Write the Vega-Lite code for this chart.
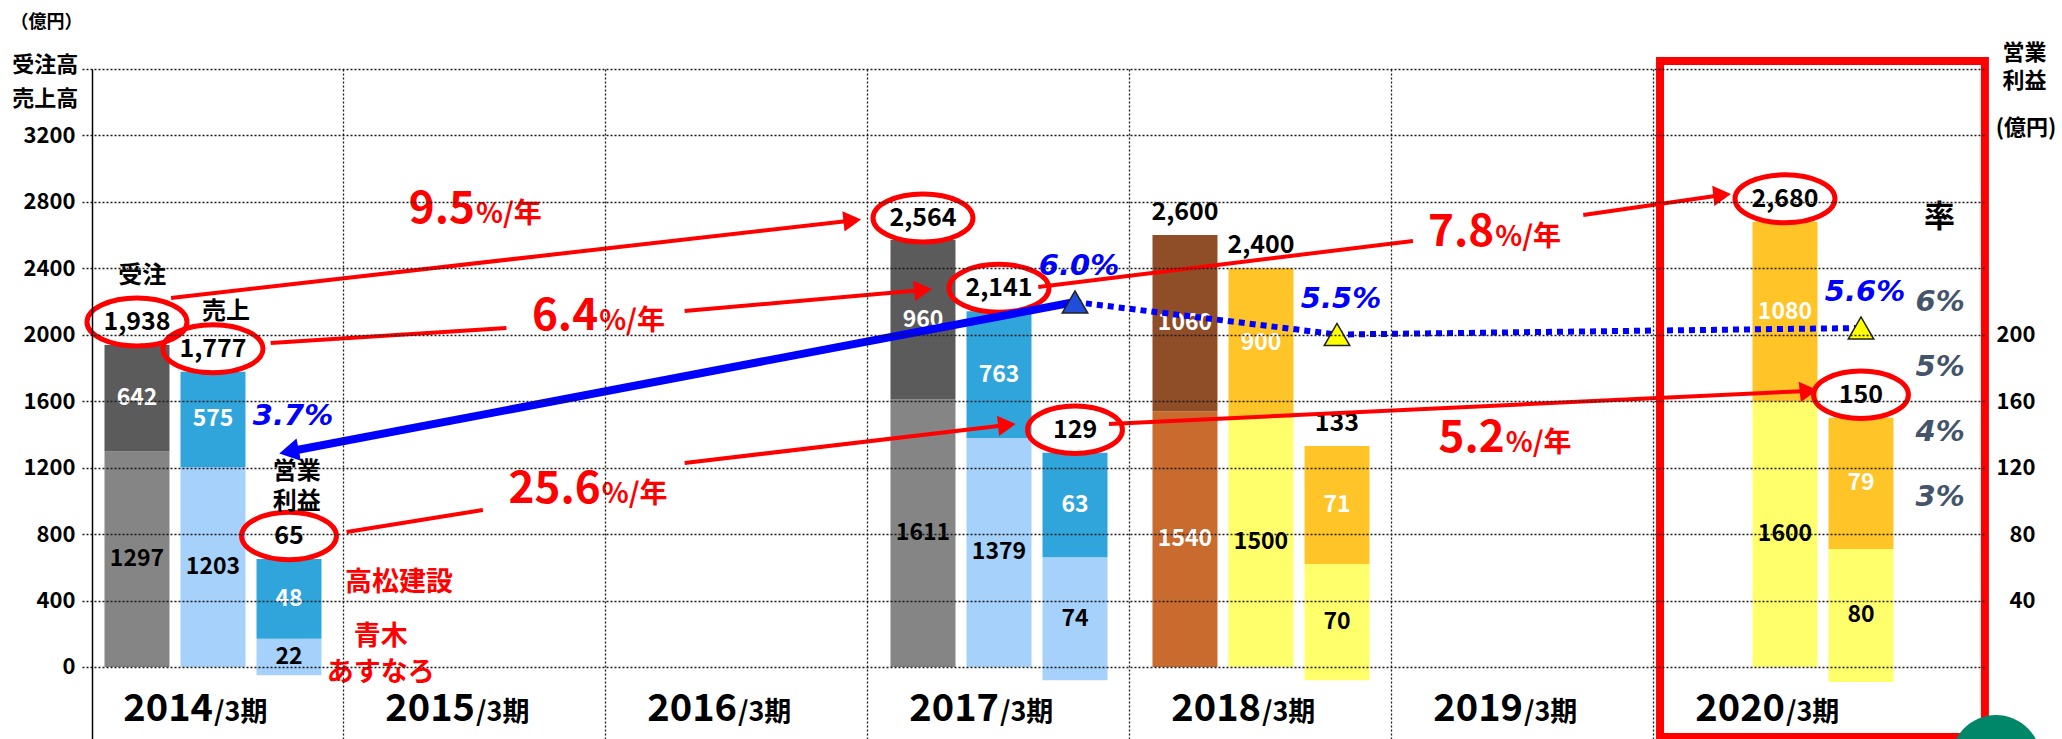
{
  "$schema": "https://vega.github.io/schema/vega-lite/v6.json",
  "width": 1902,
  "height": 670,
  "autosize": {"type": "none"},
  "padding": {"left": 82, "top": 69, "right": 78, "bottom": 0},
  "background": "#ffffff",
  "config": {
    "view": {"stroke": null},
    "font": "Noto Sans CJK JP",
    "text": {"font": "Noto Sans CJK JP", "fontWeight": "bold"}
  },
  "datasets": {
    "bars": [
      {"year": "2014", "slot": "受注", "series": "受注実績・青木あすなろ", "value": 1297, "lo": 0, "hi": 1297},
      {"year": "2014", "slot": "受注", "series": "受注実績・高松建設", "value": 642, "lo": 1297, "hi": 1939},
      {"year": "2014", "slot": "売上", "series": "売上実績・青木あすなろ", "value": 1203, "lo": 0, "hi": 1203},
      {"year": "2014", "slot": "売上", "series": "売上実績・高松建設", "value": 575, "lo": 1203, "hi": 1778},
      {"year": "2014", "slot": "営業利益", "series": "利益実績・青木あすなろ", "value": 22, "lo": -5, "hi": 17},
      {"year": "2014", "slot": "営業利益", "series": "利益実績・高松建設", "value": 48, "lo": 17, "hi": 65},
      {"year": "2017", "slot": "受注", "series": "受注実績・青木あすなろ", "value": 1611, "lo": 0, "hi": 1611},
      {"year": "2017", "slot": "受注", "series": "受注実績・高松建設", "value": 960, "lo": 1611, "hi": 2571},
      {"year": "2017", "slot": "売上", "series": "売上実績・青木あすなろ", "value": 1379, "lo": 0, "hi": 1379},
      {"year": "2017", "slot": "売上", "series": "売上実績・高松建設", "value": 763, "lo": 1379, "hi": 2142},
      {"year": "2017", "slot": "営業利益", "series": "利益実績・青木あすなろ", "value": 74, "lo": -8, "hi": 66},
      {"year": "2017", "slot": "営業利益", "series": "利益実績・高松建設", "value": 63, "lo": 66, "hi": 129},
      {"year": "2018", "slot": "受注", "series": "受注計画・青木あすなろ", "value": 1540, "lo": 0, "hi": 1540},
      {"year": "2018", "slot": "受注", "series": "受注計画・高松建設", "value": 1060, "lo": 1540, "hi": 2600},
      {"year": "2018", "slot": "売上", "series": "売上計画・青木あすなろ", "value": 1500, "lo": 0, "hi": 1500},
      {"year": "2018", "slot": "売上", "series": "売上計画・高松建設", "value": 900, "lo": 1500, "hi": 2400},
      {"year": "2018", "slot": "営業利益", "series": "利益計画・青木あすなろ", "value": 70, "lo": -8, "hi": 62},
      {"year": "2018", "slot": "営業利益", "series": "利益計画・高松建設", "value": 71, "lo": 62, "hi": 133},
      {"year": "2020", "slot": "売上", "series": "売上計画・青木あすなろ", "value": 1600, "lo": 0, "hi": 1600},
      {"year": "2020", "slot": "売上", "series": "売上計画・高松建設", "value": 1080, "lo": 1600, "hi": 2680},
      {"year": "2020", "slot": "営業利益", "series": "利益計画・青木あすなろ", "value": 80, "lo": -9, "hi": 71},
      {"year": "2020", "slot": "営業利益", "series": "利益計画・高松建設", "value": 79, "lo": 71, "hi": 150}
    ],
    "totals": [
      {"year": "2014", "slot": "受注", "total": 1938, "circled": true},
      {"year": "2014", "slot": "売上", "total": 1777, "circled": true},
      {"year": "2014", "slot": "営業利益", "total": 65, "circled": true},
      {"year": "2017", "slot": "受注", "total": 2564, "circled": true},
      {"year": "2017", "slot": "売上", "total": 2141, "circled": true},
      {"year": "2017", "slot": "営業利益", "total": 129, "circled": true},
      {"year": "2018", "slot": "受注", "total": 2600, "circled": false},
      {"year": "2018", "slot": "売上", "total": 2400, "circled": false},
      {"year": "2018", "slot": "営業利益", "total": 133, "circled": false},
      {"year": "2020", "slot": "売上", "total": 2680, "circled": true},
      {"year": "2020", "slot": "営業利益", "total": 150, "circled": true}
    ],
    "years": [
      {"year": "2014"}, {"year": "2015"}, {"year": "2016"}, {"year": "2017"},
      {"year": "2018"}, {"year": "2019"}, {"year": "2020"}
    ],
    "arrows": [
      {"id": "9.5", "u": 2013.84, "v": 2222, "tip": false},
      {"id": "9.5", "u": 2016.44, "v": 2688, "tip": true},
      {"id": "6.4a", "u": 2014.22, "v": 1951, "tip": false},
      {"id": "6.4a", "u": 2015.12, "v": 2041, "tip": false},
      {"id": "6.4b", "u": 2015.8, "v": 2143, "tip": false},
      {"id": "6.4b", "u": 2016.71, "v": 2270, "tip": true},
      {"id": "25.6a", "u": 2014.51, "v": 813, "tip": false},
      {"id": "25.6a", "u": 2015.03, "v": 945, "tip": false},
      {"id": "25.6b", "u": 2015.8, "v": 1228, "tip": false},
      {"id": "25.6b", "u": 2017.03, "v": 1457, "tip": true},
      {"id": "7.8a", "u": 2017.15, "v": 2288, "tip": false},
      {"id": "7.8a", "u": 2018.58, "v": 2565, "tip": false},
      {"id": "7.8b", "u": 2019.23, "v": 2721, "tip": false},
      {"id": "7.8b", "u": 2019.76, "v": 2842, "tip": true},
      {"id": "5.2", "u": 2017.42, "v": 1463, "tip": false},
      {"id": "5.2", "u": 2020.09, "v": 1662, "tip": true}
    ],
    "cagr": [
      {"rate": "9.5", "u": 2015.0, "v": 2673},
      {"rate": "6.4", "u": 2015.47, "v": 2029},
      {"rate": "25.6", "u": 2015.48, "v": 988},
      {"rate": "7.8", "u": 2018.89, "v": 2535},
      {"rate": "5.2", "u": 2018.93, "v": 1294}
    ],
    "notes": [
      {"label": "受注", "kind": "項目", "u": 2013.73, "v": 2354},
      {"label": "売上", "kind": "項目", "u": 2014.05, "v": 2137},
      {"label": "営業\n利益", "kind": "項目", "u": 2014.32, "v": 1175},
      {"label": "率", "kind": "見出し", "u": 2020.59, "v": 2703},
      {"label": "高松建設", "kind": "会社", "u": 2014.71, "v": 506},
      {"label": "青木", "kind": "会社", "u": 2014.64, "v": 182},
      {"label": "あすなろ", "kind": "会社", "u": 2014.64, "v": -38},
      {"label": "受注高", "kind": "軸", "u": 2013.36, "v": 3624},
      {"label": "売上高", "kind": "軸", "u": 2013.36, "v": 3420},
      {"label": "(億円)", "kind": "軸", "u": 2020.92, "v": 3245}
    ],
    "margin": [
      {"year": 2014, "rate": 0.037, "phase": "実績"},
      {"year": 2017, "rate": 0.06, "phase": "実績"},
      {"year": 2018, "rate": 0.055, "phase": "計画"},
      {"year": 2020, "rate": 0.056, "phase": "計画"}
    ],
    "marginTicks": [
      {"tick": 0.03}, {"tick": 0.04}, {"tick": 0.05}, {"tick": 0.06}
    ]
  },
  "resolve": {"scale": {"x": "independent", "y": "independent"}},
  "layer": [
    {
      "layer": [
        {
          "data": {"name": "bars"},
          "transform": [{"filter": "datum.slot !== '営業利益'"}],
          "mark": {"type": "bar"},
          "encoding": {
            "x": {
              "field": "year", "type": "nominal",
              "scale": {"domain": ["2014", "2015", "2016", "2017", "2018", "2019", "2020"], "paddingInner": 0, "paddingOuter": 0.1298, "align": 0},
              "axis": {
                "orient": "bottom", "title": null, "labels": false, "ticks": false, "domain": false,
                "grid": true, "bandPosition": 0, "gridDash": [2, 2], "gridColor": "#1a1a1a", "gridWidth": 1.3,
                "gridOpacity": {"condition": {"test": "datum.value === '2014'", "value": 0}, "value": 1},
                "zindex": 1
              }
            },
            "xOffset": {"field": "slot", "type": "nominal", "scale": {"domain": ["受注", "売上", "営業利益"], "paddingInner": 0.145, "paddingOuter": 0.296}},
            "y": {
              "field": "lo", "type": "quantitative",
              "scale": {"domain": [-433.5, 3600], "nice": false, "zero": false},
              "axis": {
                "orient": "left", "title": "（億円）", "titleAngle": 0, "titleAlign": "left", "titleBaseline": "top",
                "titleX": -82, "titleY": -56, "titleFontSize": 18, "titleFontWeight": "bold", "titleColor": "#000000",
                "values": [0, 200, 400, 600, 800, 1000, 1200, 1400, 1600, 1800, 2000, 2200, 2400, 2600, 2800, 3000, 3200, 3400, 3600],
                "format": "d",
                "labelExpr": "(datum.value % 400 == 0 && datum.value <= 3200) ? datum.label : ''",
                "labelFontSize": 22, "labelFontWeight": "bold", "labelColor": "#000000", "labelPadding": 17, "labelOverlap": false,
                "ticks": false, "domain": true, "domainColor": "#000000", "domainWidth": 1.5, "offset": -10,
                "grid": true, "gridDash": [2, 2], "gridColor": "#1a1a1a", "gridWidth": 1.3, "zindex": 1
              }
            },
            "y2": {"field": "hi"},
            "color": {
              "field": "series", "type": "nominal", "legend": null,
              "scale": {
                "domain": ["受注実績・青木あすなろ", "受注実績・高松建設", "売上実績・青木あすなろ", "売上実績・高松建設", "利益実績・青木あすなろ", "利益実績・高松建設", "受注計画・青木あすなろ", "受注計画・高松建設", "売上計画・青木あすなろ", "売上計画・高松建設", "利益計画・青木あすなろ", "利益計画・高松建設"],
                "range": ["#858585", "#5B5B5B", "#A6D1FB", "#30A5DB", "#A6D1FB", "#30A5DB", "#C96A2F", "#8F4E27", "#FFFF6B", "#FFC427", "#FFFF6B", "#FFC427"]
              }
            }
          }
        },
        {
          "data": {"name": "bars"},
          "transform": [{"filter": "datum.slot !== '営業利益'"}, {"calculate": "(datum.lo + datum.hi) / 2", "as": "mid"}],
          "mark": {"type": "text", "fontSize": 23, "baseline": "middle"},
          "encoding": {
            "x": {"field": "year", "type": "nominal"},
            "xOffset": {"field": "slot", "type": "nominal"},
            "y": {"field": "mid", "type": "quantitative"},
            "text": {"field": "value", "type": "quantitative", "format": "d"},
            "color": {"condition": {"test": "indexof(['受注実績・高松建設','売上実績・高松建設','利益実績・高松建設','受注計画・青木あすなろ','受注計画・高松建設','売上計画・高松建設','利益計画・高松建設'], datum.series) >= 0", "value": "#ffffff"}, "value": "#000000"}
          }
        },
        {
          "data": {"name": "totals"},
          "transform": [{"filter": "datum.slot !== '営業利益'"}],
          "mark": {"type": "text", "fontSize": 25, "baseline": "middle", "dy": -23, "color": "#000000"},
          "encoding": {
            "x": {"field": "year", "type": "nominal"},
            "xOffset": {"field": "slot", "type": "nominal"},
            "y": {"field": "total", "type": "quantitative"},
            "text": {"field": "total", "type": "quantitative", "format": ","}
          }
        },
        {
          "data": {"name": "totals"},
          "transform": [{"filter": "datum.slot !== '営業利益' && datum.circled"}],
          "mark": {"type": "point", "shape": "M-1,0A1,0.48,0,1,1,1,0A1,0.48,0,1,1,-1,0Z", "filled": false, "stroke": "#FF0000", "strokeWidth": 5, "size": 10000, "opacity": 1, "yOffset": -23},
          "encoding": {
            "x": {"field": "year", "type": "nominal"},
            "xOffset": {"field": "slot", "type": "nominal"},
            "y": {"field": "total", "type": "quantitative"}
          }
        },
        {
          "data": {"name": "years"},
          "mark": {"type": "text", "fontSize": 38, "align": "right", "baseline": "alphabetic", "color": "#000000"},
          "encoding": {
            "x": {"field": "year", "type": "nominal"},
            "y": {"datum": -325, "type": "quantitative"},
            "text": {"field": "year"}
          }
        },
        {
          "data": {"name": "years"},
          "mark": {"type": "text", "fontSize": 27, "align": "left", "baseline": "alphabetic", "dx": 1, "color": "#000000"},
          "encoding": {
            "x": {"field": "year", "type": "nominal"},
            "y": {"datum": -325, "type": "quantitative"},
            "text": {"value": "/3期"}
          }
        }
      ]
    },
    {
      "layer": [
        {
          "data": {"name": "bars"},
          "transform": [{"filter": "datum.slot === '営業利益'"}],
          "mark": {"type": "bar"},
          "encoding": {
            "x": {
              "field": "year", "type": "nominal",
              "scale": {"domain": ["2014", "2015", "2016", "2017", "2018", "2019", "2020"], "paddingInner": 0, "paddingOuter": 0.1298, "align": 0},
              "axis": null
            },
            "xOffset": {"field": "slot", "type": "nominal", "scale": {"domain": ["受注", "売上", "営業利益"], "paddingInner": 0.145, "paddingOuter": 0.296}},
            "y": {
              "field": "lo", "type": "quantitative",
              "scale": {"domain": [-43.35, 360], "nice": false, "zero": false},
              "axis": {
                "orient": "right", "values": [40, 80, 120, 160, 200], "format": "d",
                "ticks": false, "domain": false, "grid": false,
                "labelAlign": "right", "labelPadding": 51, "labelFontSize": 22, "labelFontWeight": "bold", "labelColor": "#000000",
                "title": ["営業", "利益"], "titleAngle": 0, "titleAlign": "center", "titleBaseline": "top",
                "titleX": 40, "titleY": -27, "titleFontSize": 22, "titleFontWeight": "bold", "titleColor": "#000000", "titleLineHeight": 28
              }
            },
            "y2": {"field": "hi"},
            "color": {
              "field": "series", "type": "nominal", "legend": null,
              "scale": {
                "domain": ["受注実績・青木あすなろ", "受注実績・高松建設", "売上実績・青木あすなろ", "売上実績・高松建設", "利益実績・青木あすなろ", "利益実績・高松建設", "受注計画・青木あすなろ", "受注計画・高松建設", "売上計画・青木あすなろ", "売上計画・高松建設", "利益計画・青木あすなろ", "利益計画・高松建設"],
                "range": ["#858585", "#5B5B5B", "#A6D1FB", "#30A5DB", "#A6D1FB", "#30A5DB", "#C96A2F", "#8F4E27", "#FFFF6B", "#FFC427", "#FFFF6B", "#FFC427"]
              }
            }
          }
        },
        {
          "data": {"name": "bars"},
          "transform": [{"filter": "datum.slot === '営業利益'"}, {"calculate": "(datum.lo + datum.hi) / 2", "as": "mid"}],
          "mark": {"type": "text", "fontSize": 23, "baseline": "middle"},
          "encoding": {
            "x": {"field": "year", "type": "nominal", "axis": null},
            "xOffset": {"field": "slot", "type": "nominal"},
            "y": {"field": "mid", "type": "quantitative"},
            "text": {"field": "value", "type": "quantitative", "format": "d"},
            "color": {"condition": {"test": "indexof(['受注実績・高松建設','売上実績・高松建設','利益実績・高松建設','受注計画・青木あすなろ','受注計画・高松建設','売上計画・高松建設','利益計画・高松建設'], datum.series) >= 0", "value": "#ffffff"}, "value": "#000000"}
          }
        },
        {
          "data": {"name": "totals"},
          "transform": [{"filter": "datum.slot === '営業利益'"}],
          "mark": {"type": "text", "fontSize": 25, "baseline": "middle", "dy": -23, "color": "#000000"},
          "encoding": {
            "x": {"field": "year", "type": "nominal", "axis": null},
            "xOffset": {"field": "slot", "type": "nominal"},
            "y": {"field": "total", "type": "quantitative"},
            "text": {"field": "total", "type": "quantitative", "format": ","}
          }
        },
        {
          "data": {"name": "totals"},
          "transform": [{"filter": "datum.slot === '営業利益' && datum.circled"}],
          "mark": {"type": "point", "shape": "M-1,0A1,0.5,0,1,1,1,0A1,0.5,0,1,1,-1,0Z", "filled": false, "stroke": "#FF0000", "strokeWidth": 5, "size": 9000, "opacity": 1, "yOffset": -23},
          "encoding": {
            "x": {"field": "year", "type": "nominal", "axis": null},
            "xOffset": {"field": "slot", "type": "nominal"},
            "y": {"field": "total", "type": "quantitative"}
          }
        }
      ]
    },
    {
      "layer": [
        {
          "data": {"name": "margin"},
          "transform": [{"filter": "datum.year <= 2017"}],
          "mark": {"type": "line", "color": "#0000FF", "strokeWidth": 8, "xOffset": 76},
          "encoding": {
            "x": {"field": "year", "type": "quantitative", "scale": {"domain": [2013.5, 2020.7595], "nice": false, "zero": false}, "axis": null},
            "y": {"field": "rate", "type": "quantitative", "scale": {"domain": [-0.00723, 0.09585], "nice": false, "zero": false}, "axis": null}
          }
        },
        {
          "data": {"name": "margin"},
          "transform": [{"filter": "datum.year >= 2017"}],
          "mark": {"type": "line", "color": "#0000FF", "strokeWidth": 6, "strokeDash": [6, 5], "strokeCap": "butt", "xOffset": 76},
          "encoding": {
            "x": {"field": "year", "type": "quantitative", "axis": null},
            "y": {"field": "rate", "type": "quantitative", "axis": null}
          }
        },
        {
          "data": {"name": "margin"},
          "transform": [{"filter": "datum.year == 2014"}],
          "mark": {"type": "point", "shape": "triangle-left", "filled": true, "color": "#0000FF", "size": 520, "angle": -11, "opacity": 1, "xOffset": 76},
          "encoding": {
            "x": {"field": "year", "type": "quantitative", "axis": null},
            "y": {"field": "rate", "type": "quantitative", "axis": null}
          }
        },
        {
          "data": {"name": "margin"},
          "transform": [{"filter": "datum.year >= 2017"}],
          "mark": {"type": "point", "shape": "triangle-up", "filled": true, "size": 650, "stroke": "#222222", "strokeWidth": 1.5, "opacity": 1, "xOffset": 76},
          "encoding": {
            "x": {"field": "year", "type": "quantitative", "axis": null},
            "y": {"field": "rate", "type": "quantitative", "axis": null},
            "fill": {"field": "phase", "type": "nominal", "legend": null, "scale": {"domain": ["実績", "計画"], "range": ["#1F4ED8", "#FFFF00"]}}
          }
        },
        {
          "data": {"name": "margin"},
          "mark": {"type": "text", "font": "DejaVu Sans", "fontStyle": "italic", "fontWeight": "bold", "fontSize": 29, "color": "#0000FF", "baseline": "middle", "dy": -36, "dx": 4, "xOffset": 76},
          "encoding": {
            "x": {"field": "year", "type": "quantitative", "axis": null},
            "y": {"field": "rate", "type": "quantitative", "axis": null},
            "text": {"field": "rate", "type": "quantitative", "format": ".1%"}
          }
        },
        {
          "data": {"name": "marginTicks"},
          "mark": {"type": "text", "font": "DejaVu Sans", "fontStyle": "italic", "fontWeight": "bold", "fontSize": 29, "color": "#44546A", "baseline": "middle"},
          "encoding": {
            "x": {"datum": 2020.592, "type": "quantitative", "axis": null},
            "y": {"field": "tick", "type": "quantitative", "axis": null},
            "text": {"field": "tick", "type": "quantitative", "format": ".0%"}
          }
        }
      ]
    },
    {
      "layer": [
        {
          "data": {"values": [{}]},
          "mark": {"type": "rect", "fillOpacity": 0, "stroke": "#FF0000", "strokeWidth": 8},
          "encoding": {
            "x": {"datum": 2019.523, "type": "quantitative", "scale": {"domain": [2013.5, 2020.7595], "nice": false, "zero": false}, "axis": null},
            "x2": {"datum": 2020.763},
            "y": {"datum": 3648, "type": "quantitative", "scale": {"domain": [-433.5, 3600], "nice": false, "zero": false}, "axis": null},
            "y2": {"datum": -421}
          }
        },
        {
          "data": {"name": "arrows"},
          "mark": {"type": "line", "color": "#FF0000", "strokeWidth": 4},
          "encoding": {
            "x": {"field": "u", "type": "quantitative", "axis": null},
            "y": {"field": "v", "type": "quantitative", "axis": null},
            "detail": {"field": "id", "type": "nominal"}
          }
        },
        {
          "data": {"name": "arrows"},
          "transform": [{"filter": "datum.tip"}],
          "mark": {"type": "point", "shape": "triangle-right", "filled": true, "color": "#FF0000", "size": 420, "angle": -6, "opacity": 1},
          "encoding": {
            "x": {"field": "u", "type": "quantitative", "axis": null},
            "y": {"field": "v", "type": "quantitative", "axis": null}
          }
        },
        {
          "data": {"name": "cagr"},
          "mark": {"type": "text", "fontSize": 44, "align": "right", "baseline": "alphabetic", "color": "#FF0000"},
          "encoding": {
            "x": {"field": "u", "type": "quantitative", "axis": null},
            "y": {"field": "v", "type": "quantitative", "axis": null},
            "text": {"field": "rate"}
          }
        },
        {
          "data": {"name": "cagr"},
          "mark": {"type": "text", "fontSize": 28, "align": "left", "baseline": "alphabetic", "color": "#FF0000", "dx": 1},
          "encoding": {
            "x": {"field": "u", "type": "quantitative", "axis": null},
            "y": {"field": "v", "type": "quantitative", "axis": null},
            "text": {"value": "%/年"}
          }
        },
        {
          "data": {"name": "notes"},
          "transform": [{"filter": "datum.kind === '項目'"}],
          "mark": {"type": "text", "fontSize": 24, "align": "center", "baseline": "middle", "color": "#000000", "lineBreak": "\n", "lineHeight": 30},
          "encoding": {
            "x": {"field": "u", "type": "quantitative", "axis": null},
            "y": {"field": "v", "type": "quantitative", "axis": null},
            "text": {"field": "label"}
          }
        },
        {
          "data": {"name": "notes"},
          "transform": [{"filter": "datum.kind === '軸'"}],
          "mark": {"type": "text", "fontSize": 22, "align": "center", "baseline": "middle", "color": "#000000"},
          "encoding": {
            "x": {"field": "u", "type": "quantitative", "axis": null},
            "y": {"field": "v", "type": "quantitative", "axis": null},
            "text": {"field": "label"}
          }
        },
        {
          "data": {"name": "notes"},
          "transform": [{"filter": "datum.kind === '見出し'"}],
          "mark": {"type": "text", "fontSize": 31, "align": "center", "baseline": "middle", "color": "#000000"},
          "encoding": {
            "x": {"field": "u", "type": "quantitative", "axis": null},
            "y": {"field": "v", "type": "quantitative", "axis": null},
            "text": {"field": "label"}
          }
        },
        {
          "data": {"name": "notes"},
          "transform": [{"filter": "datum.kind === '会社'"}],
          "mark": {"type": "text", "fontSize": 27, "align": "center", "baseline": "middle", "color": "#FF0000"},
          "encoding": {
            "x": {"field": "u", "type": "quantitative", "axis": null},
            "y": {"field": "v", "type": "quantitative", "axis": null},
            "text": {"field": "label"}
          }
        },
        {
          "data": {"values": [{}]},
          "mark": {"type": "point", "shape": "circle", "filled": true, "color": "#00876A", "size": 8100, "opacity": 1},
          "encoding": {
            "x": {"datum": 2020.805, "type": "quantitative", "axis": null},
            "y": {"datum": -560, "type": "quantitative", "axis": null}
          }
        }
      ]
    }
  ]
}
